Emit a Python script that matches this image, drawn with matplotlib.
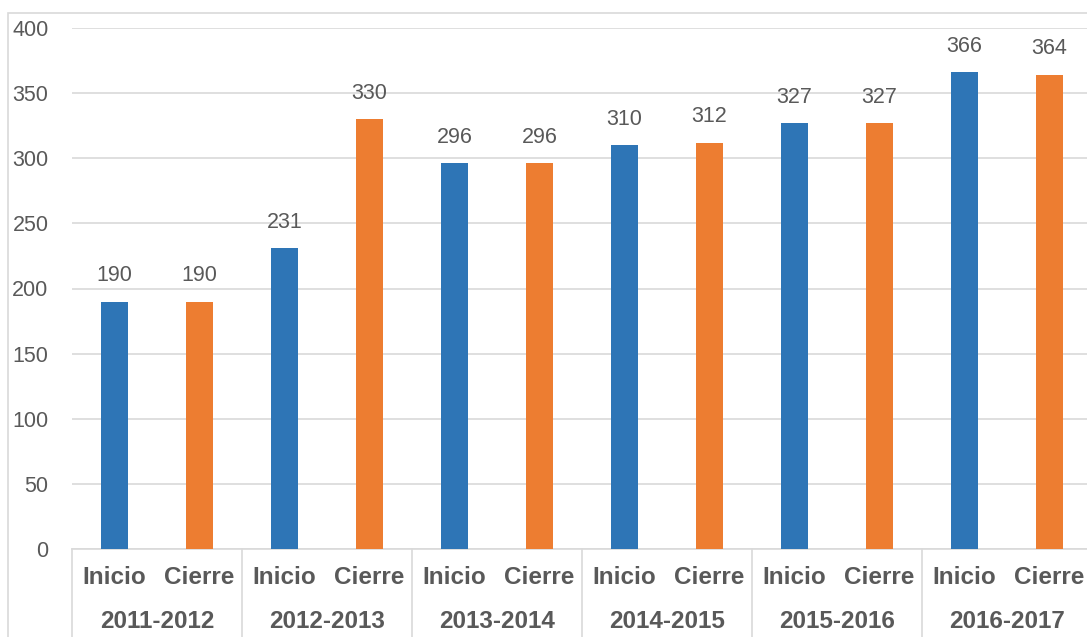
import matplotlib.pyplot as plt
import matplotlib.transforms as mtransforms
from matplotlib.patches import Rectangle

# Datos
periodos = ['2011-2012', '2012-2013', '2013-2014', '2014-2015', '2015-2016', '2016-2017']
momentos = ['Inicio', 'Cierre']
inicio = [190, 231, 296, 310, 327, 366]
cierre = [190, 330, 296, 312, 327, 364]

azul = '#2E75B6'
naranja = '#ED7D31'
gris_txt = '#595959'
gris_lin = '#D9D9D9'

plt.rcParams['font.family'] = ['Liberation Sans', 'DejaVu Sans']

W, H = 1087, 637
fig = plt.figure(figsize=(W / 100, H / 100), dpi=100)
ax = fig.add_axes([72 / W, 88 / H, 1020 / W, 521 / H])

valores = []
colores = []
for a, b in zip(inicio, cierre):
    valores += [a, b]
    colores += [azul, naranja]
xs = list(range(len(valores)))

ax.bar(xs, valores, width=0.32, color=colores, zorder=3)
for x, v in zip(xs, valores):
    ax.annotate(str(v), (x, v), xytext=(0, 18.7), textcoords='offset points',
                ha='center', va='center', fontsize=15.5, color=gris_txt)

ax.set_xlim(-0.5, len(valores) - 0.5)
ax.set_ylim(0, 400)
ax.set_yticks(range(0, 401, 50))
ax.tick_params(axis='y', length=0, pad=17, labelsize=15.5, labelcolor=gris_txt)
ax.set_xticks([])
ax.grid(axis='y', color=gris_lin, linewidth=1.2, zorder=0)
for s in ['left', 'right', 'top']:
    ax.spines[s].set_visible(False)
ax.spines['bottom'].set_color(gris_lin)
ax.spines['bottom'].set_linewidth(1.2)

# Eje de categorías en dos niveles
trans = mtransforms.blended_transform_factory(ax.transData, ax.transAxes)
for i, p in enumerate(periodos):
    for j, m in enumerate(momentos):
        ax.text(2 * i + j, -29 / 521, m, transform=trans, ha='center', va='center',
                fontsize=17.5, fontweight='bold', color=gris_txt)
    ax.text(2 * i + 0.5, -72 / 521, p, transform=trans, ha='center', va='center',
            fontsize=17.5, fontweight='bold', color=gris_txt)
for k in range(len(periodos) + 1):
    ax.plot([2 * k - 0.5, 2 * k - 0.5], [0, -0.2], transform=trans, color=gris_lin,
            linewidth=1.2, clip_on=False)

# Borde del área del gráfico
fig.patches.append(Rectangle((8 / W, -0.1), 1.2, 1 - 13 / H + 0.1, transform=fig.transFigure,
                             fill=False, edgecolor=gris_lin, linewidth=1.2))

fig.savefig('out.png', dpi=100)
